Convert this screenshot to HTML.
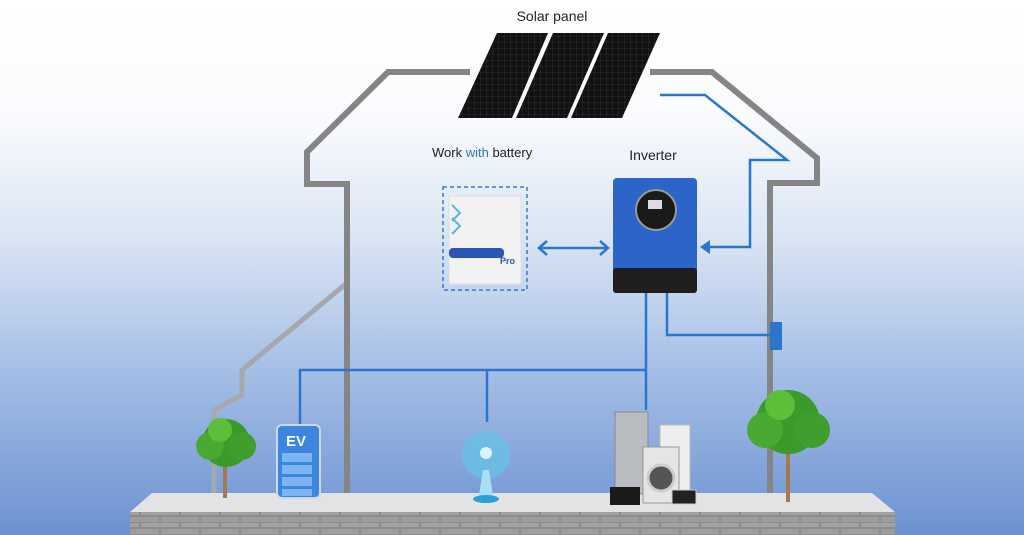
<!DOCTYPE html><html><head><style>body{margin:0}svg{display:block}</style></head><body>
<svg width="1024" height="535" viewBox="0 0 1024 535" xmlns="http://www.w3.org/2000/svg" font-family="Liberation Sans, sans-serif">
<defs>
<linearGradient id="bg" x1="0" y1="0" x2="0" y2="1"><stop offset="0" stop-color="#fff"/><stop offset="0.22" stop-color="#fafbfe"/><stop offset="0.45" stop-color="#d9e4f4"/><stop offset="0.7" stop-color="#a3bde5"/><stop offset="1" stop-color="#6d92d2"/></linearGradient>
<pattern id="brick" width="40" height="12" patternUnits="userSpaceOnUse"><rect width="40" height="12" fill="#8d8d8d"/><rect x="1" y="1" width="38" height="5" fill="#9d9d9d"/><rect x="-19" y="7" width="38" height="4" fill="#a2a2a2"/><rect x="21" y="7" width="38" height="4" fill="#a2a2a2"/></pattern>
<pattern id="cell" width="6" height="6" patternUnits="userSpaceOnUse"><rect width="6" height="6" fill="#111"/><path d="M0 0H6M0 0V6" stroke="#444" stroke-width="0.6"/></pattern>
</defs>
<rect width="1024" height="535" fill="url(#bg)"/>
<polyline points="347,283 242,370 242,395 214,410 214,500" fill="none" stroke="#a5a8ad" stroke-width="5"/>
<polyline points="347,503 347,184 307,184 307,152 388,72 470,72" fill="none" stroke="#858585" stroke-width="6"/>
<polyline points="650,72 712,72 817,158 817,183 770,183 770,503" fill="none" stroke="#858585" stroke-width="6"/>
<polygon points="497,33 548,33 512,118 458,118" fill="url(#cell)"/>
<polygon points="553,33 604,33 567,118 516,118" fill="url(#cell)"/>
<polygon points="608,33 660,33 622,118 571,118" fill="url(#cell)"/>
<text x="552" y="21" font-size="14" text-anchor="middle" fill="#222">Solar panel</text>
<text x="432" y="157" font-size="13" fill="#222">Work <tspan fill="#2f74c9">with</tspan> battery</text>
<text x="653" y="160" font-size="14" text-anchor="middle" fill="#222">Inverter</text>
<g fill="none" stroke="#2a76cc" stroke-width="2.5">
<polyline points="660,95 705,95 787,160 750,160 750,247 702,247"/>
<line x1="539" y1="248" x2="608" y2="248"/>
<polyline points="547,241 539,248 547,255"/><polyline points="600,241 608,248 600,255"/>
<polyline points="646,293 646,410"/>
<polyline points="667,293 667,335 775,335"/>
<polyline points="300,425 300,370 646,370"/>
<line x1="487" y1="370" x2="487" y2="422"/>
</g>
<polygon points="700,247 710,240 710,254" fill="#2a76cc"/>
<rect x="770" y="322" width="12" height="28" fill="#2a76cc"/>
<rect x="443" y="187" width="84" height="103" fill="none" stroke="#3a78c8" stroke-width="1.5" stroke-dasharray="4,3"/>
<rect x="449" y="196" width="72" height="88" fill="#f2f2f2" stroke="#ddd"/>
<rect x="449" y="248" width="55" height="10" rx="4" fill="#2b56b5"/>
<text x="500" y="264" font-size="9" font-weight="bold" fill="#2b56b5">Pro</text>
<path d="M452 205 l8 8 -8 8 M452 218 l8 8 -8 8" stroke="#5ab3e0" stroke-width="2" fill="none"/>
<rect x="613" y="178" width="84" height="115" rx="4" fill="#2d64c8"/>
<rect x="613" y="268" width="84" height="25" rx="3" fill="#1e1e1e"/>
<circle cx="656" cy="210" r="20" fill="#1a1a1a" stroke="#999" stroke-width="2"/>
<rect x="648" y="200" width="14" height="9" fill="#ddd"/>
<polygon points="152,493 872,493 895,512 130,512" fill="#e3e3e5"/>
<rect x="130" y="512" width="765" height="23" fill="url(#brick)"/>
<g>
<rect x="223" y="455" width="4" height="43" fill="#a57a4a"/>
<circle cx="226" cy="443" r="24" fill="#3a9a2a"/><circle cx="210" cy="446" r="14" fill="#4aa932"/><circle cx="242" cy="446" r="14" fill="#3f9e2e"/><circle cx="220" cy="430" r="12" fill="#5bbf3a"/>
<rect x="786" y="440" width="4" height="62" fill="#a57a4a"/>
<circle cx="788" cy="422" r="32" fill="#3a9a2a"/><circle cx="765" cy="430" r="18" fill="#4aa932"/><circle cx="812" cy="430" r="18" fill="#3f9e2e"/><circle cx="780" cy="405" r="15" fill="#5bbf3a"/>
</g>
<rect x="277" y="425" width="43" height="73" rx="5" fill="#3d86e0" stroke="#cfd8e8" stroke-width="2"/>
<text x="286" y="446" font-size="15" font-weight="bold" fill="#fff">EV</text>
<g fill="#7db5f2"><rect x="282" y="453" width="30" height="9"/><rect x="282" y="465" width="30" height="9"/><rect x="282" y="477" width="30" height="9"/><rect x="282" y="489" width="30" height="7"/></g>
<circle cx="486" cy="455" r="24" fill="#66c0e6" opacity="0.8"/><circle cx="486" cy="453" r="6" fill="#d8f2ff"/>
<polygon points="483,470 489,470 493,495 479,495" fill="#a8dff3"/>
<ellipse cx="486" cy="499" rx="13" ry="4" fill="#2aa0d8"/>
<rect x="615" y="412" width="33" height="82" fill="#b9bcc0" stroke="#888"/>
<rect x="660" y="425" width="30" height="70" fill="#eee" stroke="#bbb"/>
<rect x="643" y="447" width="36" height="56" fill="#e5e5e5" stroke="#999"/>
<circle cx="661" cy="478" r="13" fill="#555" stroke="#ccc" stroke-width="3"/>
<rect x="610" y="487" width="30" height="18" fill="#1b1b1b"/>
<rect x="672" y="490" width="24" height="14" fill="#222" stroke="#ccc"/>
</svg>
</body></html>
